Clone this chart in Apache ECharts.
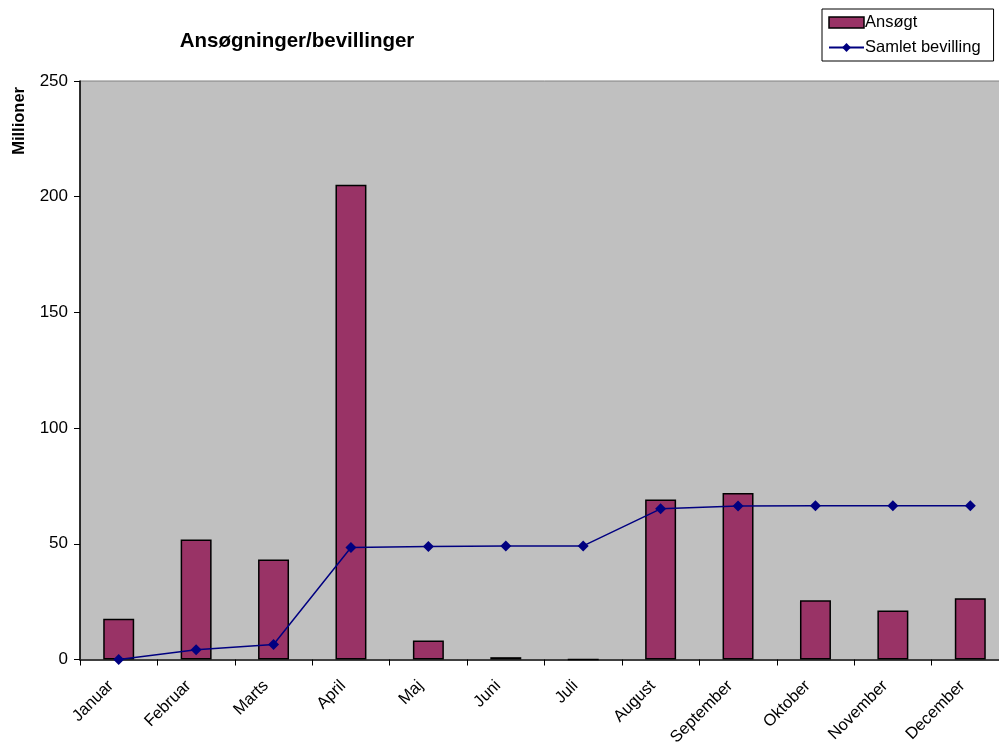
<!DOCTYPE html>
<html>
<head>
<meta charset="utf-8">
<script src="https://cdn.jsdelivr.net/npm/echarts@6/dist/echarts.min.js"></script>
<style>
html,body{margin:0;padding:0;background:#fff;overflow:hidden;}
#c{width:1010px;height:744px;}
</style>
</head>
<body>
<div id="c"></div>
<script>
const categories = ['Januar','Februar','Marts','April','Maj','Juni','Juli','August','September','Oktober','November','December'];
const ansoegt = [17.6, 51.9, 43.2, 205.2, 8.2, 1.0, 0, 69.1, 71.9, 25.6, 21.2, 26.5];
const samletBevilling = [0, 4.2, 6.5, 48.4, 48.8, 49.0, 49.1, 65.1, 66.3, 66.4, 66.4, 66.4];
const yTicks = { min: 0, max: 250, interval: 50 };

const chart = echarts.init(document.getElementById('c'), null, {renderer:'canvas'});
const font = 'Liberation Sans, Arial, sans-serif';
chart.setOption({
  animation: false,
  backgroundColor: '#ffffff',
  textStyle: { fontFamily: font },
  title: {
    text: 'Ansøgninger/bevillinger',
    left: 292, top: 26,
    textAlign: 'center',
    textStyle: { fontFamily: font, fontSize: 20.5, fontWeight: 'bold', color: '#000' }
  },
  graphic: [{
    type: 'text',
    left: 11, top: 87,
    rotation: Math.PI / 2,
    style: { text: 'Millioner', font: 'bold 16.5px Liberation Sans, Arial, sans-serif', fill: '#000' }
  }],
  legend: {
    orient: 'vertical',
    left: 822, top: 9,
    width: 172,
    backgroundColor: '#fff',
    borderColor: '#000',
    borderWidth: 1,
    borderRadius: 0,
    padding: [5, 13, 5, 6],
    itemGap: 8,
    itemWidth: 35,
    itemHeight: 11,
    textStyle: { fontFamily: font, fontSize: 16.5, color: '#000', padding: [0,0,0,-4] },
    data: [
      { name: 'Ansøgt', icon: 'rect', itemStyle: { color: '#993366', borderColor: '#000', borderWidth: 1.5 } },
      { name: 'Samlet bevilling' }
    ]
  },
  grid: { left: 80, top: 81, right: 1, height: 578.5, outerBoundsMode: 'none', containLabel: false, show: true, backgroundColor: '#c0c0c0', borderColor: '#808080', borderWidth: 1 },
  xAxis: {
    type: 'category',
    data: categories,
    boundaryGap: true,
    axisLine: { lineStyle: { color: '#404040', width: 2 } },
    axisTick: { show: true, alignWithLabel: false, length: 6, inside: false, lineStyle: { color: '#000' } },
    axisLabel: { rotate: 45, fontSize: 16.5, color: '#000', fontFamily: font, margin: 16, padding: [0, 11, 0, 0], interval: 0 },
    splitLine: { show: false }
  },
  yAxis: {
    type: 'value',
    min: yTicks.min, max: yTicks.max, interval: yTicks.interval,
    axisLine: { show: true, lineStyle: { color: '#000', width: 1.5 } },
    axisTick: { show: true, length: 6, lineStyle: { color: '#000' } },
    axisLabel: { fontSize: 17, color: '#000', fontFamily: font, margin: 12 },
    splitLine: { show: false }
  },
  series: [
    {
      name: 'Ansøgt',
      type: 'bar',
      data: ansoegt,
      barWidth: '40%',
      itemStyle: { color: '#993366', borderColor: '#000', borderWidth: 1.5 }
    },
    {
      name: 'Samlet bevilling',
      type: 'line',
      data: samletBevilling,
      symbol: 'diamond',
      symbolSize: 11,
      lineStyle: { color: '#000080', width: 1.5 },
      itemStyle: { color: '#000080' }
    }
  ]
});
</script>
</body>
</html>
